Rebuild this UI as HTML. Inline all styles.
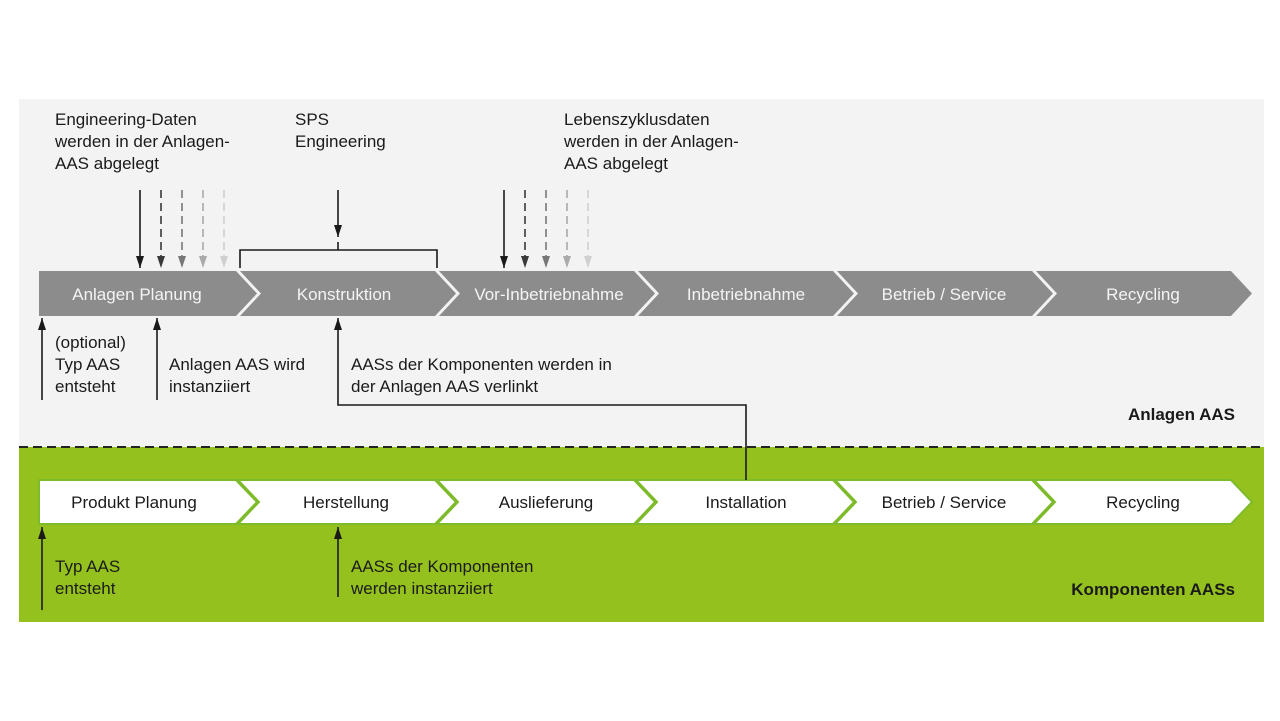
<!DOCTYPE html>
<html><head><meta charset="utf-8"><style>
html,body{margin:0;padding:0;background:#fff;}
svg{display:block;}
text{font-family:"Liberation Sans",sans-serif;font-size:17px;fill:#1a1a1a;}
.w{fill:#f4f4f4;text-anchor:middle;}
.b{fill:#1a1a1a;text-anchor:middle;}
.bold{font-weight:bold;text-anchor:end;}
</style></head><body>
<svg width="1280" height="721" viewBox="0 0 1280 721" xmlns="http://www.w3.org/2000/svg">
<defs>
<marker id="a1" viewBox="0 0 12 8" refX="12" refY="4" markerWidth="12" markerHeight="8" markerUnits="userSpaceOnUse" orient="auto"><path d="M0,0 L12,4 L0,8 z" fill="#1a1a1a"/></marker>
<marker id="a2" viewBox="0 0 12 8" refX="12" refY="4" markerWidth="12" markerHeight="8" markerUnits="userSpaceOnUse" orient="auto"><path d="M0,0 L12,4 L0,8 z" fill="#3a3a3a"/></marker>
<marker id="a3" viewBox="0 0 12 8" refX="12" refY="4" markerWidth="12" markerHeight="8" markerUnits="userSpaceOnUse" orient="auto"><path d="M0,0 L12,4 L0,8 z" fill="#777"/></marker>
<marker id="a4" viewBox="0 0 12 8" refX="12" refY="4" markerWidth="12" markerHeight="8" markerUnits="userSpaceOnUse" orient="auto"><path d="M0,0 L12,4 L0,8 z" fill="#aaa"/></marker>
<marker id="a5" viewBox="0 0 12 8" refX="12" refY="4" markerWidth="12" markerHeight="8" markerUnits="userSpaceOnUse" orient="auto"><path d="M0,0 L12,4 L0,8 z" fill="#d0d0d0"/></marker>
</defs>
<rect x="19" y="99" width="1245" height="348" fill="#f3f3f3"/>
<rect x="19" y="447" width="1245" height="175" fill="#95c11f"/>
<line x1="19" y1="447" x2="1264" y2="447" stroke="#222" stroke-width="2" stroke-dasharray="9,5"/>

<g fill="#8c8c8c">
<polygon points="39,271 236,271 257,293.5 236,316 39,316"/>
<polygon points="240,271 435,271 456,293.5 435,316 240,316 261,293.5"/>
<polygon points="439,271 634,271 655,293.5 634,316 439,316 460,293.5"/>
<polygon points="638,271 833,271 854,293.5 833,316 638,316 659,293.5"/>
<polygon points="837,271 1032,271 1053,293.5 1032,316 837,316 858,293.5"/>
<polygon points="1036,271 1231,271 1252,293.5 1231,316 1036,316 1057,293.5"/>
</g>
<text class="w" x="137" y="300">Anlagen Planung</text>
<text class="w" x="344" y="300">Konstruktion</text>
<text class="w" x="549" y="300">Vor-Inbetriebnahme</text>
<text class="w" x="746" y="300">Inbetriebnahme</text>
<text class="w" x="944" y="300">Betrieb / Service</text>
<text class="w" x="1143" y="300">Recycling</text>

<g fill="#ffffff" stroke="#7dbb2a" stroke-width="2">
<polygon points="39,480 236,480 257,502 236,524 39,524"/>
<polygon points="238,480 435,480 456,502 435,524 238,524 259,502"/>
<polygon points="437,480 634,480 655,502 634,524 437,524 458,502"/>
<polygon points="636,480 833,480 854,502 833,524 636,524 657,502"/>
<polygon points="835,480 1032,480 1053,502 1032,524 835,524 856,502"/>
<polygon points="1034,480 1231,480 1252,502 1231,524 1034,524 1055,502"/>
</g>
<text class="b" x="134" y="508">Produkt Planung</text>
<text class="b" x="346" y="508">Herstellung</text>
<text class="b" x="546" y="508">Auslieferung</text>
<text class="b" x="746" y="508">Installation</text>
<text class="b" x="944" y="508">Betrieb / Service</text>
<text class="b" x="1143" y="508">Recycling</text>

<text x="55" y="125">Engineering-Daten</text>
<text x="55" y="147">werden in der Anlagen-</text>
<text x="55" y="169">AAS abgelegt</text>
<text x="295" y="125">SPS</text>
<text x="295" y="147">Engineering</text>
<text x="564" y="125">Lebenszyklusdaten</text>
<text x="564" y="147">werden in der Anlagen-</text>
<text x="564" y="169">AAS abgelegt</text>

<g stroke-width="1.6" fill="none">
<line x1="140" y1="190" x2="140" y2="268" stroke="#1a1a1a" marker-end="url(#a1)"/>
<line x1="161" y1="190" x2="161" y2="268" stroke="#3a3a3a" stroke-dasharray="8,5" marker-end="url(#a2)"/>
<line x1="182" y1="190" x2="182" y2="268" stroke="#777" stroke-dasharray="8,5" marker-end="url(#a3)"/>
<line x1="203" y1="190" x2="203" y2="268" stroke="#aaa" stroke-dasharray="8,5" marker-end="url(#a4)"/>
<line x1="224" y1="190" x2="224" y2="268" stroke="#d0d0d0" stroke-dasharray="8,5" marker-end="url(#a5)"/>
<line x1="504" y1="190" x2="504" y2="268" stroke="#1a1a1a" marker-end="url(#a1)"/>
<line x1="525" y1="190" x2="525" y2="268" stroke="#3a3a3a" stroke-dasharray="8,5" marker-end="url(#a2)"/>
<line x1="546" y1="190" x2="546" y2="268" stroke="#777" stroke-dasharray="8,5" marker-end="url(#a3)"/>
<line x1="567" y1="190" x2="567" y2="268" stroke="#aaa" stroke-dasharray="8,5" marker-end="url(#a4)"/>
<line x1="588" y1="190" x2="588" y2="268" stroke="#d0d0d0" stroke-dasharray="8,5" marker-end="url(#a5)"/>
<line x1="338" y1="190" x2="338" y2="237" stroke="#1a1a1a" marker-end="url(#a1)"/>
<line x1="338" y1="242" x2="338" y2="250" stroke="#1a1a1a"/>
<polyline points="240,268 240,250 437,250 437,268" stroke="#1a1a1a"/>
<line x1="42" y1="400" x2="42" y2="318" stroke="#1a1a1a" marker-end="url(#a1)"/>
<line x1="157" y1="400" x2="157" y2="318" stroke="#1a1a1a" marker-end="url(#a1)"/>
<polyline points="746,480 746,405 338,405 338,318" stroke="#1a1a1a" marker-end="url(#a1)"/>
<line x1="42" y1="610" x2="42" y2="527" stroke="#1a1a1a" marker-end="url(#a1)"/>
<line x1="338" y1="597" x2="338" y2="527" stroke="#1a1a1a" marker-end="url(#a1)"/>
</g>

<text x="55" y="348">(optional)</text>
<text x="55" y="370">Typ AAS</text>
<text x="55" y="392">entsteht</text>
<text x="169" y="370">Anlagen AAS wird</text>
<text x="169" y="392">instanziiert</text>
<text x="351" y="370">AASs der Komponenten werden in</text>
<text x="351" y="392">der  Anlagen AAS verlinkt</text>
<text class="bold" x="1235" y="420">Anlagen AAS</text>

<text x="55" y="572">Typ AAS</text>
<text x="55" y="594">entsteht</text>
<text x="351" y="572">AASs der Komponenten</text>
<text x="351" y="594">werden instanziiert</text>
<text class="bold" x="1235" y="595">Komponenten AASs</text>
</svg>
</body></html>
